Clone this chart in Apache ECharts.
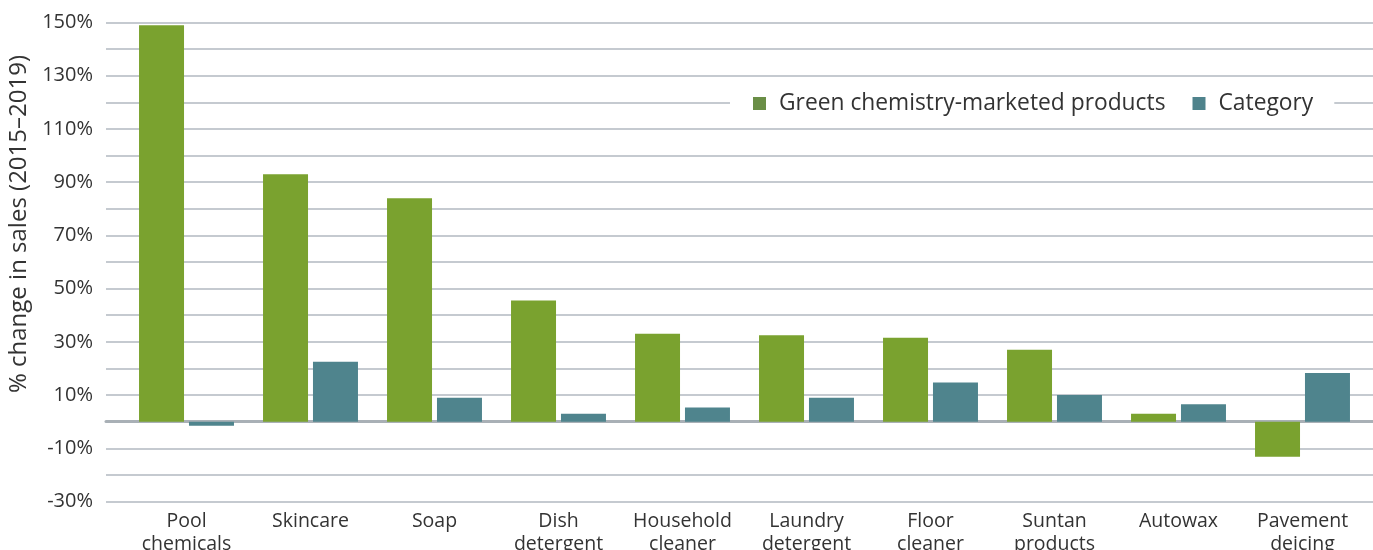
<!DOCTYPE html>
<html>
<head>
<meta charset="utf-8">
<script src="https://cdn.jsdelivr.net/npm/echarts@6/dist/echarts.min.js"></script>
<style>html,body{margin:0;padding:0;background:#fff}#c{width:1373px;height:550px}</style>
</head>
<body>
<div id="c"></div>
<script>
var categories = ['Pool\nchemicals','Skincare','Soap','Dish\ndetergent','Household\ncleaner','Laundry\ndetergent','Floor\ncleaner','Suntan\nproducts','Autowax','Pavement\ndeicing'];
var greenValues = [149, 93, 84, 45.5, 33, 32.5, 31.5, 27, 3, -13.2];
var categoryValues = [-1.5, 22.5, 9, 3, 5.3, 9, 14.7, 10, 6.5, 18.3];
var seriesNames = ['Green chemistry-marketed products', 'Category'];
var yMin = -30, yMax = 150, yStep = 10;

var FONT = 'Open Sans';
var chart = echarts.init(document.getElementById('c'));
chart.setOption({
  animation: false,
  textStyle: {fontFamily: FONT},
  grid: [
    {left: 106, right: 0, top: 22.5, bottom: 48.5, outerBoundsMode: 'none', containLabel: false},
    {left: 124.5, right: 8.5, top: 22.5, bottom: 48.5, outerBoundsMode: 'none', containLabel: false}
  ],
  legend: {
    data: [
      {name: seriesNames[0], itemStyle: {color: '#6a8e46'}},
      {name: seriesNames[1], itemStyle: {color: '#4f838c'}}
    ],
    left: 730, top: 89,
    backgroundColor: '#fff',
    padding: [3, 21, 3, 23],
    itemWidth: 13, itemHeight: 13, itemGap: 27,
    icon: 'rect',
    textStyle: {fontSize: 22.8, color: '#333', fontFamily: FONT, padding: [0, 0, 0, 8]}
  },
  xAxis: [
    {type: 'value', gridIndex: 0, min: 0, max: 1,
     axisLine: {show: true, onZero: true, lineStyle: {color: '#a9b0b6', width: 3}},
     axisTick: {show: false}, axisLabel: {show: false}, splitLine: {show: false}},
    {type: 'category', gridIndex: 1, data: categories,
     axisLine: {show: false}, axisTick: {show: false},
     axisLabel: {fontSize: 19.5, color: '#333', lineHeight: 23, margin: 8, interval: 0, verticalAlign: 'top'}}
  ],
  yAxis: [
    {type: 'value', gridIndex: 0, min: yMin, max: yMax, interval: yStep,
     name: '% change in sales (2015\u20132019)', nameLocation: 'middle', nameGap: 74,
     nameTextStyle: {fontSize: 24, color: '#333', padding: [0, 0, 0, 76]},
     axisLine: {show: false}, axisTick: {show: false},
     axisLabel: {fontSize: 20, color: '#333', margin: 13,
       formatter: function (v) { return ((v - yMin) % 20 === 0) ? v + '%' : ''; }},
     splitLine: {lineStyle: {color: '#c5cad0', width: 2}}},
    {type: 'value', gridIndex: 1, min: yMin, max: yMax, interval: yStep, show: false, splitLine: {show: false}}
  ],
  series: [
    {type: 'line', xAxisIndex: 0, yAxisIndex: 0, data: [], silent: true},
    {name: seriesNames[0], type: 'bar', xAxisIndex: 1, yAxisIndex: 1, data: greenValues,
     barWidth: 45, barGap: '11%', itemStyle: {color: '#7aa22f'}},
    {name: seriesNames[1], type: 'bar', xAxisIndex: 1, yAxisIndex: 1, data: categoryValues,
     barWidth: 45, barGap: '11%', itemStyle: {color: '#4f848d'}}
  ]
});
</script>
</body>
</html>
